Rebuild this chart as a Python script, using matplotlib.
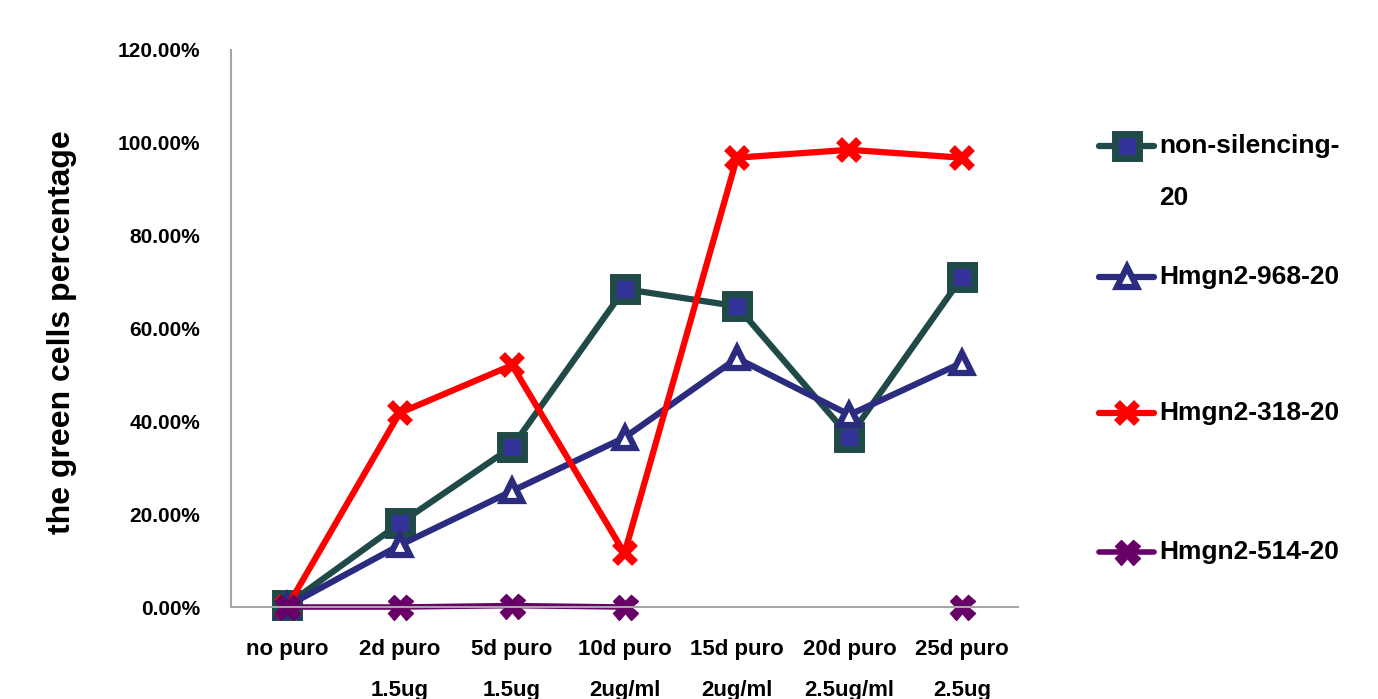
import numpy as np
import matplotlib
matplotlib.use('Agg')
import matplotlib.pyplot as plt
from matplotlib.lines import Line2D
from matplotlib.ticker import FuncFormatter

plt.rcParams['font.family'] = ['Liberation Sans', 'DejaVu Sans']
plt.rcParams['font.weight'] = 'bold'

# Time points under puromycin selection
conditions = ['no puro', '2d puro\n1.5ug', '5d puro\n1.5ug', '10d puro\n2ug/ml',
              '15d puro\n2ug/ml', '20d puro\n2.5ug/ml', '25d puro\n2.5ug']

# Green cell fractions per construct (NaN = not measured)
non_silencing = [0.005, 0.18, 0.345, 0.685, 0.648, 0.367, 0.71]
hmgn2_968 = [0.002, 0.133, 0.25, 0.365, 0.536, 0.414, 0.526]
hmgn2_318 = [0.0, 0.418, 0.521, 0.116, 0.968, 0.985, 0.968]
hmgn2_514 = [0.0, 0.0, 0.003, 0.0, np.nan, np.nan, 0.0]

labels = ['non-silencing-\n20', 'Hmgn2-968-20', 'Hmgn2-318-20', 'Hmgn2-514-20']

styles = [
    dict(color='#1f4a48', lw=4.5, marker='s', ms=17, mfc='#333399', mec='#1f4a48', mew=5),
    dict(color='#2b2b7f', lw=4.5, marker='^', ms=15, mfc='white', mec='#2b2b7f', mew=4.5),
    dict(color='#ff0000', lw=4.5, marker='x', ms=14, mec='#ff0000', mew=6),
    dict(color='#660066', lw=4, marker='X', ms=18, mfc='#660066', mec='#660066', mew=1),
]

fig = plt.figure(figsize=(13.78, 6.99), dpi=100)
ax = fig.add_axes([0.1676, 0.1316, 0.5712, 0.7969])

x = np.arange(len(conditions))
series = [non_silencing, hmgn2_968, hmgn2_318, hmgn2_514]
for vals, st in zip(series, styles):
    ax.plot(x, vals, solid_capstyle='round', solid_joinstyle='round', clip_on=False, **st)

ax.set_xlim(-0.5, len(conditions) - 0.5)
ax.set_ylim(0, 1.2)
ax.set_yticks(np.arange(0, 1.21, 0.2))
ax.yaxis.set_major_formatter(FuncFormatter(lambda v, p: f'{v*100:.2f}%'))
ax.tick_params(axis='y', length=0, pad=22, labelsize=15)
ax.tick_params(axis='x', length=0, pad=23)
ax.set_xticks(x)
ax.set_xticklabels(conditions, fontsize=16)
for t in ax.get_xticklabels():
    t.set_linespacing(2.25)
    t.set_verticalalignment('top')

for side in ['top', 'right']:
    ax.spines[side].set_visible(False)
for side in ['left', 'bottom']:
    ax.spines[side].set_color('#a6a6a6')
    ax.spines[side].set_linewidth(1.5)

fig.text(0.045, 0.525, 'the green cells percentage', rotation=90, fontsize=23,
         ha='center', va='center')

# legend drawn by hand so the wrapped first label hangs below its key
leg_y = [0.791, 0.604, 0.409, 0.211]
for lab, st, yy in zip(labels, styles, leg_y):
    fig.add_artist(Line2D([0.7975, 0.8375], [yy, yy], transform=fig.transFigure,
                          solid_capstyle='round', **{**st, 'marker': None}))
    fig.add_artist(Line2D([0.8175], [yy], transform=fig.transFigure, ls='none',
                          **{k: v for k, v in st.items() if k != 'lw'}))
    wrapped = '\n' in lab
    fig.text(0.841, yy + (0.017 if wrapped else 0), lab, fontsize=19, ha='left',
             va='top' if wrapped else 'center', linespacing=2.45,
             transform=fig.transFigure)

fig.savefig('out.png', dpi=100)
